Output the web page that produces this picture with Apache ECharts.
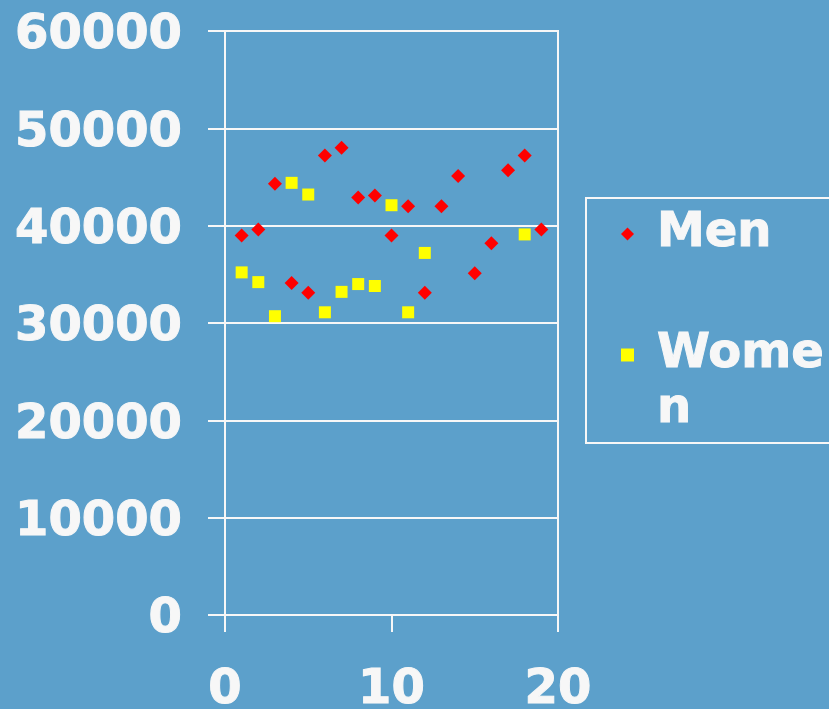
<!DOCTYPE html>
<html>
<head>
<meta charset="utf-8">
<script src="https://cdn.jsdelivr.net/npm/echarts@6/dist/echarts.min.js"></script>
<style>
  html, body { margin: 0; padding: 0; background: #5ca0cb; }
  #chart { width: 829px; height: 709px; }
</style>
</head>
<body>
<div id="chart"></div>
<script>
// Salaries by sample index
const menX = [1, 2, 3, 4, 5, 6, 7, 8, 9, 10, 11, 12, 13, 14, 15, 16, 17, 18, 19];
const menY = [39000, 39600, 44300, 34100, 33100, 47200, 48000, 42900, 43100, 39000,
              42000, 33100, 42000, 45100, 35100, 38200, 45700, 47200, 39600];
const womenX = [1, 2, 3, 4, 5, 6, 7, 8, 9, 10, 11, 12, 18];
const womenY = [35200, 34200, 30700, 44400, 43200, 31100, 33200, 34000, 33800, 42100,
                31100, 37200, 39100];

const xTicks = [0, 10, 20];
const yTicks = [0, 10000, 20000, 30000, 40000, 50000, 60000];

const seriesNames = ['Men', 'Women'];

const WHITE = '#f7f7f7';
const FONT = 'DejaVu Sans';

// heavy white label text
const labelFont = {
  color: WHITE, fontFamily: FONT, fontWeight: 'bold', fontSize: 48,
  textBorderColor: WHITE, textBorderWidth: 1
};

const pairs = (xs, ys) => xs.map((x, i) => [x, ys[i]]);

const chart = echarts.init(document.getElementById('chart'));
chart.setOption({
  backgroundColor: '#5ca0cb',
  animation: false,
  textStyle: { fontFamily: FONT },
  grid: {
    left: 225, right: 271, top: 31, bottom: 94,
    outerBoundsMode: 'none',
    show: true, borderColor: WHITE, borderWidth: 2, backgroundColor: 'transparent'
  },
  xAxis: {
    type: 'value',
    min: xTicks[0], max: xTicks[xTicks.length - 1], interval: xTicks[1] - xTicks[0],
    axisLine: { show: true, lineStyle: { color: WHITE, width: 2 } },
    axisTick: { show: true, inside: false, length: 17, lineStyle: { color: WHITE, width: 2 } },
    splitLine: { show: false },
    axisLabel: Object.assign({}, labelFont, { margin: 52, formatter: v => String(v) })
  },
  yAxis: {
    type: 'value',
    min: yTicks[0], max: yTicks[yTicks.length - 1], interval: yTicks[1] - yTicks[0],
    axisLine: { show: true, lineStyle: { color: WHITE, width: 2 } },
    axisTick: { show: true, inside: false, length: 17, lineStyle: { color: WHITE, width: 2 } },
    splitLine: { show: true, lineStyle: { color: WHITE, width: 2 } },
    axisLabel: Object.assign({}, labelFont, {
      margin: 43, verticalAlign: 'top', lineHeight: 10, formatter: v => String(v)
    })
  },
  legend: {
    orient: 'vertical',
    left: 586, top: 198,
    padding: [8.5, 12, 5.5, 35],
    itemGap: 11,
    itemWidth: 13, itemHeight: 13,
    borderColor: WHITE, borderWidth: 2,
    selectedMode: false,
    // the wrapped "Women" label starts one line up so its first line sits level with the icon
    formatter: name => (name === seriesNames[1] ? '\n' + name : name),
    textStyle: Object.assign({}, labelFont, {
      lineHeight: 55, width: 170, overflow: 'breakAll', padding: [0, 0, 0, 18]
    }),
    data: [
      { name: seriesNames[0], icon: 'diamond' },
      { name: seriesNames[1], icon: 'rect' }
    ]
  },
  series: [
    {
      name: seriesNames[0], type: 'scatter', symbol: 'diamond', symbolSize: 14,
      itemStyle: { color: '#ff0000', opacity: 1 },
      data: pairs(menX, menY)
    },
    {
      name: seriesNames[1], type: 'scatter', symbol: 'rect', symbolSize: 12,
      itemStyle: { color: '#ffff00', opacity: 1 },
      data: pairs(womenX, womenY)
    }
  ]
});
</script>
</body>
</html>
